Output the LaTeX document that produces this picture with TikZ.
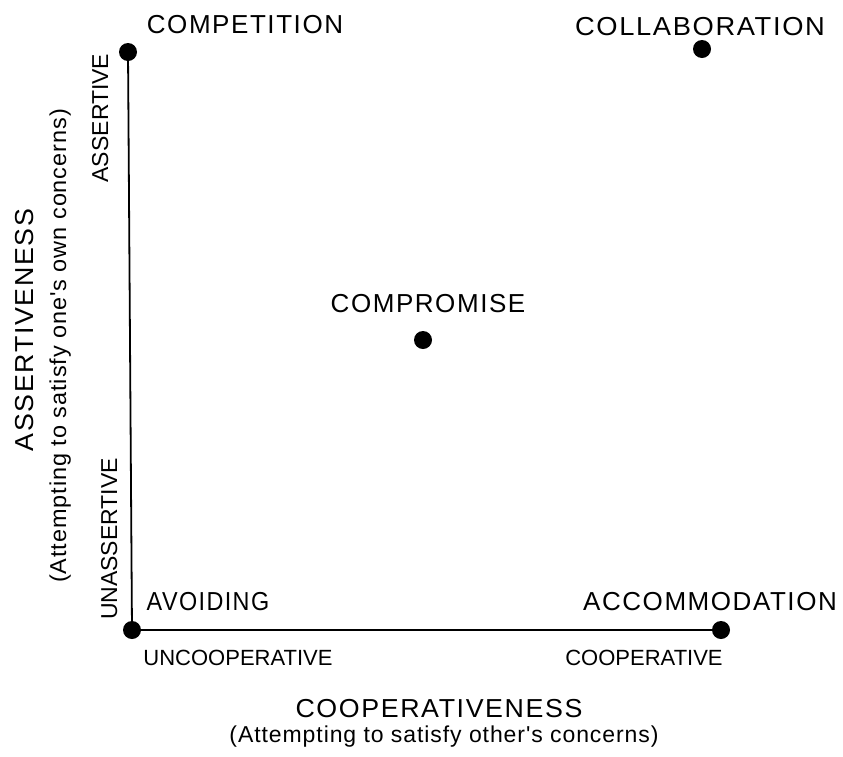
\documentclass[tikz,border=0pt]{standalone}
\usepackage{fontspec}
\setmainfont{Liberation Sans}
\newfontfamily\spaced{Liberation Sans}[LetterSpace=6]
\newfontfamily\spacedsub{Liberation Sans}[LetterSpace=4]
\begin{document}
\begin{tikzpicture}[x=1pt,y=-1pt,
  dot/.style={circle,fill=black,inner sep=0pt,minimum size=18pt},
  axis/.style={line width=1.8pt},
  big/.style={inner sep=0pt,anchor=base,font=\spaced\fontsize{26}{30}\selectfont},
  small/.style={inner sep=0pt,anchor=base,font=\fontsize{22}{26}\selectfont},
  mid/.style={inner sep=0pt,anchor=base,font=\fontsize{23}{27}\selectfont},
  sub/.style={inner sep=0pt,anchor=base,font=\spacedsub\fontsize{23}{27}\selectfont}]
\useasboundingbox (0,0) rectangle (843,756);
% dots
\node[dot] (competition) at (128,52) {};
\node[dot] (collaboration) at (702,49) {};
\node[dot] (compromise) at (423,340) {};
\node[dot] (avoiding) at (132,630) {};
\node[dot] (accommodation) at (721,630) {};
% axes
\draw[axis] (competition.center) -- (avoiding.center) -- (accommodation.center);
% style labels
\node[big] (lcompetition) at (245,33) {COMPETITION};
\node[big] (lcollaboration) at (700,35) {\scalebox{1.05}[1]{COLLABORATION}};
\node[big] (lcompromise) at (428,312) {COMPROMISE};
\node[big] (lavoiding) at (208,610) {\scalebox{0.9}[1]{AVOIDING}};
\node[big] (laccommodation) at (710,610) {ACCOMMODATION};
% horizontal axis labels
\node[small] (uncoop) at (238,665) {UNCOOPERATIVE};
\node[small] (coop) at (644,665) {COOPERATIVE};
\node[big] (coopness) at (439,717) {\scalebox{1.03}[1]{COOPERATIVENESS}};
\node[sub] (coopsub) at (444,742) {(Attempting to satisfy other's concerns)};
% vertical axis labels
\node[mid,rotate=90] (assertive) at (108,118) {ASSERTIVE};
\node[mid,rotate=90] (unassertive) at (117,539) {UNASSERTIVE};
\node[big,rotate=90] (assertness) at (33,330) {\scalebox{1.03}[1]{ASSERTIVENESS}};
\node[sub,rotate=90] (assertsub) at (66,346) {\scalebox{1.02}[1]{(Attempting to satisfy one's own concerns)}};
\end{tikzpicture}
\end{document}
